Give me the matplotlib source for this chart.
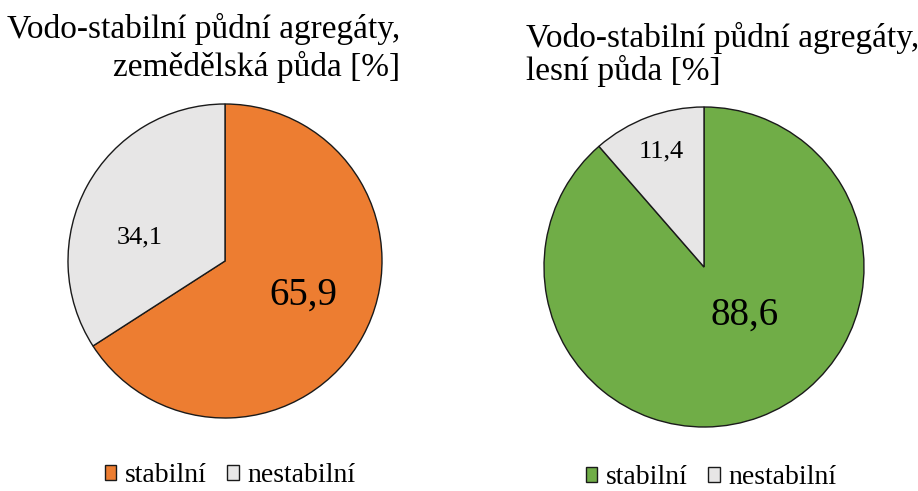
import matplotlib.pyplot as plt
from matplotlib.patches import Patch

plt.rcParams['font.family'] = ['Liberation Serif', 'DejaVu Serif']

labels = ['stabilní', 'nestabilní']
zem = [65.9, 34.1]
les = [88.6, 11.4]
zem_txt = ['65,9', '34,1']
les_txt = ['88,6', '11,4']
zem_cols = ['#ED7D31', '#E7E6E6']
les_cols = ['#70AD47', '#E7E6E6']

W, H = 918, 491
fig = plt.figure(figsize=(W / 100, H / 100), dpi=100)


def pie_ax(cx, cy, r):
    return fig.add_axes([(cx - r) / W, (H - cy - r) / H, 2 * r / W, 2 * r / H])


def ptext(x, y, s, **kw):
    # x, y in pixels from top-left
    fig.text(x / W, 1 - y / H, s, **kw)


ax1 = pie_ax(225, 261, 157)
ax2 = pie_ax(704, 267, 160)

for ax, vals, cols in [(ax1, zem, zem_cols), (ax2, les, les_cols)]:
    ax.pie(vals, colors=cols, startangle=90, counterclock=False,
           wedgeprops=dict(edgecolor='#1a1a1a', linewidth=1.0))
    ax.set_xlim(-1, 1)
    ax.set_ylim(-1, 1)
    ax.set_aspect('equal')
    ax.axis('off')

# value labels
ptext(303, 305, zem_txt[0], fontsize=28, ha='center', va='baseline')
ptext(140, 243, zem_txt[1], fontsize=19, ha='center', va='baseline')
ptext(745, 325, les_txt[0], fontsize=28, ha='center', va='baseline')
ptext(661, 157, les_txt[1], fontsize=19, ha='center', va='baseline')

# titles
ptext(400, 38, 'Vodo-stabilní půdní agregáty,', fontsize=24, ha='right', va='baseline')
ptext(400, 76, 'zemědělská půda [%]', fontsize=24, ha='right', va='baseline')
ptext(526, 47, 'Vodo-stabilní půdní agregáty,', fontsize=24, ha='left', va='baseline')
ptext(526, 80, 'lesní půda [%]', fontsize=24, ha='left', va='baseline')

# legends
for cx, cy, cols in [(230, 476, zem_cols), (711, 478, les_cols)]:
    handles = [Patch(facecolor=c, edgecolor='#1a1a1a', linewidth=1.0) for c in cols]
    fig.legend(handles, labels, loc='center', bbox_to_anchor=(cx / W, 1 - cy / H),
               ncol=2, frameon=False, fontsize=20, handlelength=0.42, handleheight=0.42,
               handletextpad=0.3, columnspacing=0.75, borderpad=0, borderaxespad=0)

fig.savefig('out.png', dpi=100)
